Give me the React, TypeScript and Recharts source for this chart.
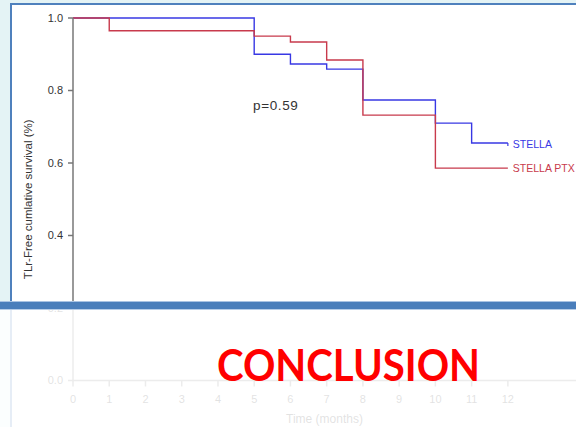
import React from 'react';
import { LineChart, Line, XAxis, YAxis, ReferenceDot, Label } from 'recharts';

// Kaplan-Meier estimates per arm (event times in months)
const stellaMonths = [0, 5, 6, 7, 8, 10, 11, 12];
const stellaSurvival = [1.0, 0.9, 0.873, 0.859, 0.774, 0.71, 0.655, 0.655];
const ptxMonths = [0, 1, 5, 6, 7, 8, 10, 12];
const ptxSurvival = [1.0, 0.965, 0.95, 0.934, 0.884, 0.732, 0.586, 0.586];

const monthTicks = [0, 1, 2, 3, 4, 5, 6, 7, 8, 9, 10, 11, 12];
const survivalTicks = [0, 0.2, 0.4, 0.6, 0.8, 1.0];
const pValueText = 'p=0.59';

const W = 576;
const H = 427;
const FONT = '"Liberation Sans", Arial, sans-serif';
const BLUE = '#3838e4';
const RED = '#c83a4c';

const stellaData = stellaMonths.map((t, i) => ({ t, s: stellaSurvival[i] }));
const ptxData = ptxMonths.map((t, i) => ({ t, s: ptxSurvival[i] }));

const endLabel = (text: string, color: string, last: number, dy: number) => (props: any) => {
  if (props.index !== last) return null;
  return (
    <text x={props.x + 5} y={props.y + dy} fill={color} fontSize={10.5} fontFamily={FONT}>
      {text}
    </text>
  );
};

const censorTick = (last: number, color: string) => (props: any) => {
  if (props.index !== last) return <g key={`d${props.index}`} />;
  return (
    <line
      key={`d${props.index}`}
      x1={props.cx}
      x2={props.cx}
      y1={props.cy}
      y2={props.cy + 3}
      stroke={color}
      strokeWidth={1.2}
    />
  );
};

export default function App() {
  return (
    <div style={{ position: 'absolute', left: 0, top: 0, width: W, height: H, background: '#e4f3f5', overflow: 'hidden' }}>
      {/* slide panel */}
      <div
        style={{
          position: 'absolute',
          left: 10,
          top: 3,
          right: 0,
          bottom: 0,
          background: '#fff',
          borderLeft: '2px solid #4f81bd',
          borderTop: '2px solid #4f81bd',
        }}
      />
      <div style={{ position: 'absolute', left: 0, top: 0 }}>
        <LineChart width={W} height={H} margin={{ top: 18, right: 0, bottom: 0, left: 0 }}>
          <XAxis
            type="number"
            dataKey="t"
            domain={[0, 13.88]}
            ticks={monthTicks}
            allowDataOverflow
            height={46.5}
            tickSize={6}
            tickMargin={9}
            stroke="#777"
            strokeWidth={1.5}
            tick={{ fill: '#333', fontSize: 11, fontFamily: FONT }}
          >
            <Label
              value="Time (months)"
              position="insideBottom"
              offset={4}
              style={{ fill: '#333', fontSize: 12, fontFamily: FONT }}
            />
          </XAxis>
          <YAxis
            type="number"
            domain={[0, 1]}
            ticks={survivalTicks}
            width={73}
            tickSize={5}
            tickMargin={5}
            stroke="#777"
            strokeWidth={1.5}
            tickFormatter={(v: number) => v.toFixed(1)}
            tick={{ fill: '#333', fontSize: 11, fontFamily: FONT }}
          >
            <Label
              content={(p: any) => {
                const vb = p.viewBox || { x: 0, y: 18, width: 73, height: 362.5 };
                const cx = vb.x + 28;
                const cy = vb.y + vb.height / 2;
                return (
                  <text
                    x={cx}
                    y={cy}
                    transform={`rotate(-90, ${cx}, ${cy})`}
                    textAnchor="middle"
                    dominantBaseline="central"
                    fill="#333"
                    fontSize={11.5}
                    fontFamily={FONT}
                  >
                    TLr-Free cumlative survival (%)
                  </text>
                );
              }}
            />
          </YAxis>
          <Line
            data={stellaData}
            dataKey="s"
            type="stepAfter"
            stroke={BLUE}
            strokeWidth={1.4}
            dot={censorTick(stellaData.length - 1, BLUE)}
            activeDot={false}
            label={endLabel('STELLA', BLUE, stellaData.length - 1, 5)}
            isAnimationActive={false}
          />
          <Line
            data={ptxData}
            dataKey="s"
            type="stepAfter"
            stroke={RED}
            strokeWidth={1.4}
            dot={false}
            activeDot={false}
            label={endLabel('STELLA PTX', RED, ptxData.length - 1, 4)}
            isAnimationActive={false}
          />
          <ReferenceDot
            x={4.97}
            y={0.746}
            r={0}
            shape={(p: any) => (
              <text x={p.cx} y={p.cy} fill="#333" fontSize={13.5} fontFamily={FONT} letterSpacing={0.6}>
                {pValueText}
              </text>
            )}
          />
        </LineChart>
      </div>
      {/* divider bar, faded lower half and heading */}
      <svg width={W} height={H} style={{ position: 'absolute', left: 0, top: 0 }}>
        <rect x={0} y={309} width={W} height={H - 309} fill="#fff" fillOpacity={0.86} />
        <rect x={0} y={301} width={W} height={1} fill="#a9c3e3" />
        <rect x={0} y={302} width={W} height={7} fill="#4a7ebb" />
        <rect x={0} y={309} width={W} height={1} fill="#b7cde8" />
        <text
          x={217}
          y={381}
          fill="#ff0000"
          fontSize={43}
          fontWeight="bold"
          fontFamily="Lato, 'Open Sans', sans-serif"
          textLength={263}
          lengthAdjust="spacingAndGlyphs"
        >
          CONCLUSION
        </text>
      </svg>
    </div>
  );
}
